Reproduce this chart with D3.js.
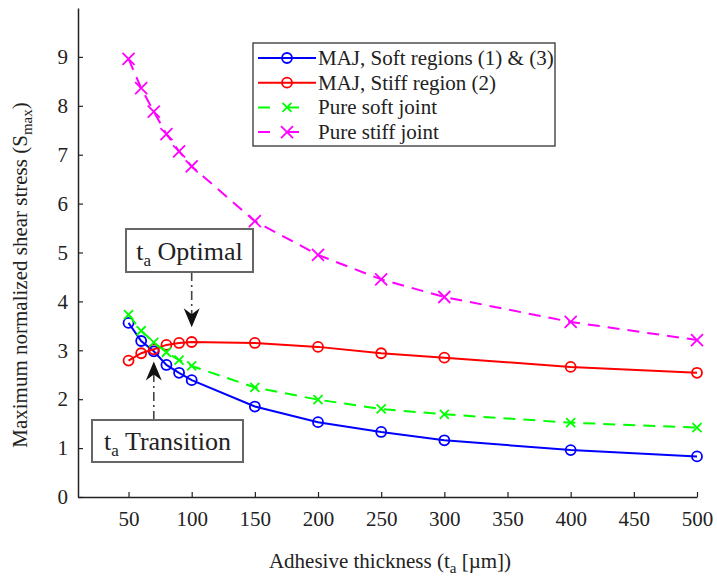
<!DOCTYPE html>
<html>
<head>
<meta charset="utf-8">
<script src="https://cdn.jsdelivr.net/npm/d3@7"></script>
<style>
  html, body { margin: 0; padding: 0; background: #fff; }
  svg { display: block; }
  svg text { font-family: "Liberation Serif", "DejaVu Serif", serif; }
</style>
</head>
<body>
<svg id="chart" width="717" height="579"></svg>
<script>
// Adhesive thickness (µm) at which each joint was evaluated
const thickness = [50, 60, 70, 80, 90, 100, 150, 200, 250, 300, 400, 500];

// Maximum normalized shear stress for each configuration
const majSoft   = [3.56, 3.19, 2.98, 2.70, 2.54, 2.39, 1.85, 1.53, 1.33, 1.16, 0.96, 0.83];
const majStiff  = [2.79, 2.94, 3.02, 3.11, 3.15, 3.17, 3.15, 3.07, 2.94, 2.85, 2.66, 2.54];
const pureSoft  = [3.73, 3.40, 3.16, 2.96, 2.80, 2.68, 2.24, 1.99, 1.80, 1.69, 1.52, 1.42];
const pureStiff = [8.96, 8.36, 7.88, 7.42, 7.07, 6.76, 5.64, 4.95, 4.45, 4.09, 3.58, 3.21];

const seriesNames = ["MAJ, Soft regions (1) & (3)", "MAJ, Stiff region (2)", "Pure soft joint", "Pure stiff joint"];
const xTicks = [50, 100, 150, 200, 250, 300, 350, 400, 450, 500];
const yTicks = [0, 1, 2, 3, 4, 5, 6, 7, 8, 9];

const FONT = "'Liberation Serif', 'DejaVu Serif', serif";

const series = [
  { name: seriesNames[0], values: majSoft,   color: "#0000ff", dash: null,   marker: "circle" },
  { name: seriesNames[1], values: majStiff,  color: "#ff0000", dash: null,   marker: "circle" },
  { name: seriesNames[2], values: pureSoft,  color: "#00ff00", dash: "12,8", marker: "xsmall" },
  { name: seriesNames[3], values: pureStiff, color: "#ff00ff", dash: "12,8", marker: "x" }
];

const svg = d3.select("#chart");
const x = d3.scaleLinear().domain([10, 500]).range([78, 697]);
const y = d3.scaleLinear().domain([0, 10]).range([497, 8]);

// Axes: left and bottom only, ticks pointing inward
const xAxis = svg.append("g").attr("transform", `translate(0,${y(0)})`)
  .call(d3.axisBottom(x).tickValues(xTicks).tickSizeInner(-5).tickSizeOuter(0).tickPadding(14));
const yAxis = svg.append("g").attr("transform", `translate(${x(10)},0)`)
  .call(d3.axisLeft(y).tickValues(yTicks).tickSizeInner(-5).tickSizeOuter(0).tickPadding(10));
[xAxis, yAxis].forEach(g => {
  g.attr("font-family", FONT).attr("font-size", 21);
  g.select(".domain").attr("stroke", "#222").attr("stroke-width", 1.5);
  g.selectAll(".tick line").attr("stroke", "#222").attr("stroke-width", 1.2);
  g.selectAll(".tick text").attr("fill", "#222");
});

// Axis titles
const xt = svg.append("text").attr("x", 390).attr("y", 568).attr("text-anchor", "middle")
  .attr("fill", "#222").attr("font-family", FONT).attr("font-size", 21);
xt.append("tspan").text("Adhesive thickness (t");
xt.append("tspan").attr("baseline-shift", "-30%").attr("font-size", 15).text("a");
xt.append("tspan").text(" [µm])");

const yt = svg.append("text").attr("transform", "translate(27,275) rotate(-90)")
  .attr("text-anchor", "middle").attr("fill", "#222").attr("font-family", FONT).attr("font-size", 21);
yt.append("tspan").text("Maximum normalized shear stress (S");
yt.append("tspan").attr("baseline-shift", "-30%").attr("font-size", 15).text("max");
yt.append("tspan").text(")");

// Lines and markers
const line = d3.line().x((d, i) => x(thickness[i])).y(d => y(d));

function drawMarker(g, type, color, cx, cy) {
  if (type === "circle") {
    g.append("circle").attr("cx", cx).attr("cy", cy).attr("r", 5)
      .attr("fill", "none").attr("stroke", color).attr("stroke-width", 1.8);
  } else {
    const s = type === "x" ? 6 : 4.5;
    g.append("path")
      .attr("d", `M${cx - s},${cy - s}L${cx + s},${cy + s}M${cx - s},${cy + s}L${cx + s},${cy - s}`)
      .attr("stroke", color).attr("stroke-width", 1.8).attr("fill", "none");
  }
}

series.forEach(s => {
  const g = svg.append("g");
  g.append("path").datum(s.values).attr("d", line)
    .attr("fill", "none").attr("stroke", s.color).attr("stroke-width", 2)
    .attr("stroke-dasharray", s.dash);
  s.values.forEach((v, i) => drawMarker(g, s.marker, s.color, x(thickness[i]), y(v)));
});

// Legend
const lg = svg.append("g");
lg.append("rect").attr("x", 253).attr("y", 43).attr("width", 302).attr("height", 103)
  .attr("fill", "#fff").attr("stroke", "#333").attr("stroke-width", 1.3);
series.forEach((s, i) => {
  const ry = 58 + i * 24.7;
  lg.append("line").attr("x1", 258).attr("x2", 316).attr("y1", ry).attr("y2", ry)
    .attr("stroke", s.color).attr("stroke-width", 2).attr("stroke-dasharray", s.dash ? "12,17" : null);
  drawMarker(lg, s.marker, s.color, 287, ry);
  lg.append("text").attr("x", 318).attr("y", ry + 7).attr("fill", "#222")
    .attr("font-family", FONT).attr("font-size", 21).text(s.name);
});

// Annotations: labelled boxes with dash-dot arrows
function annotate(label, boxX, boxY, boxW, boxH, tx, ty, fromTop) {
  const g = svg.append("g");
  const ax = x(tx);
  const tip = y(ty);
  const dir = fromTop ? -1 : 1;          // +1 arrow points down, -1 points up
  const y0 = fromTop ? boxY : boxY + boxH;
  g.append("line").attr("x1", ax).attr("x2", ax).attr("y1", y0).attr("y2", tip - dir * 12)
    .attr("stroke", "#444").attr("stroke-width", 1.6).attr("stroke-dasharray", "9,4,2,4");
  g.append("path")
    .attr("d", `M${ax},${tip} L${ax - 8},${tip - dir * 19} L${ax},${tip - dir * 13} L${ax + 8},${tip - dir * 19} Z`)
    .attr("fill", "#111");
  g.append("rect").attr("x", boxX).attr("y", boxY).attr("width", boxW).attr("height", boxH)
    .attr("fill", "#fff").attr("stroke", "#666").attr("stroke-width", 2);
  const t = g.append("text").attr("x", boxX + boxW / 2).attr("y", boxY + boxH / 2 + 9)
    .attr("text-anchor", "middle").attr("fill", "#222").attr("font-family", FONT).attr("font-size", 26);
  t.append("tspan").text("t");
  t.append("tspan").attr("baseline-shift", "-35%").attr("font-size", 17).text("a");
  t.append("tspan").text(" " + label);
}

annotate("Optimal", 126, 229, 127, 43, 100, 3.47, false);
annotate("Transition", 92, 420, 151, 42, 70, 2.77, true);
</script>
</body>
</html>
